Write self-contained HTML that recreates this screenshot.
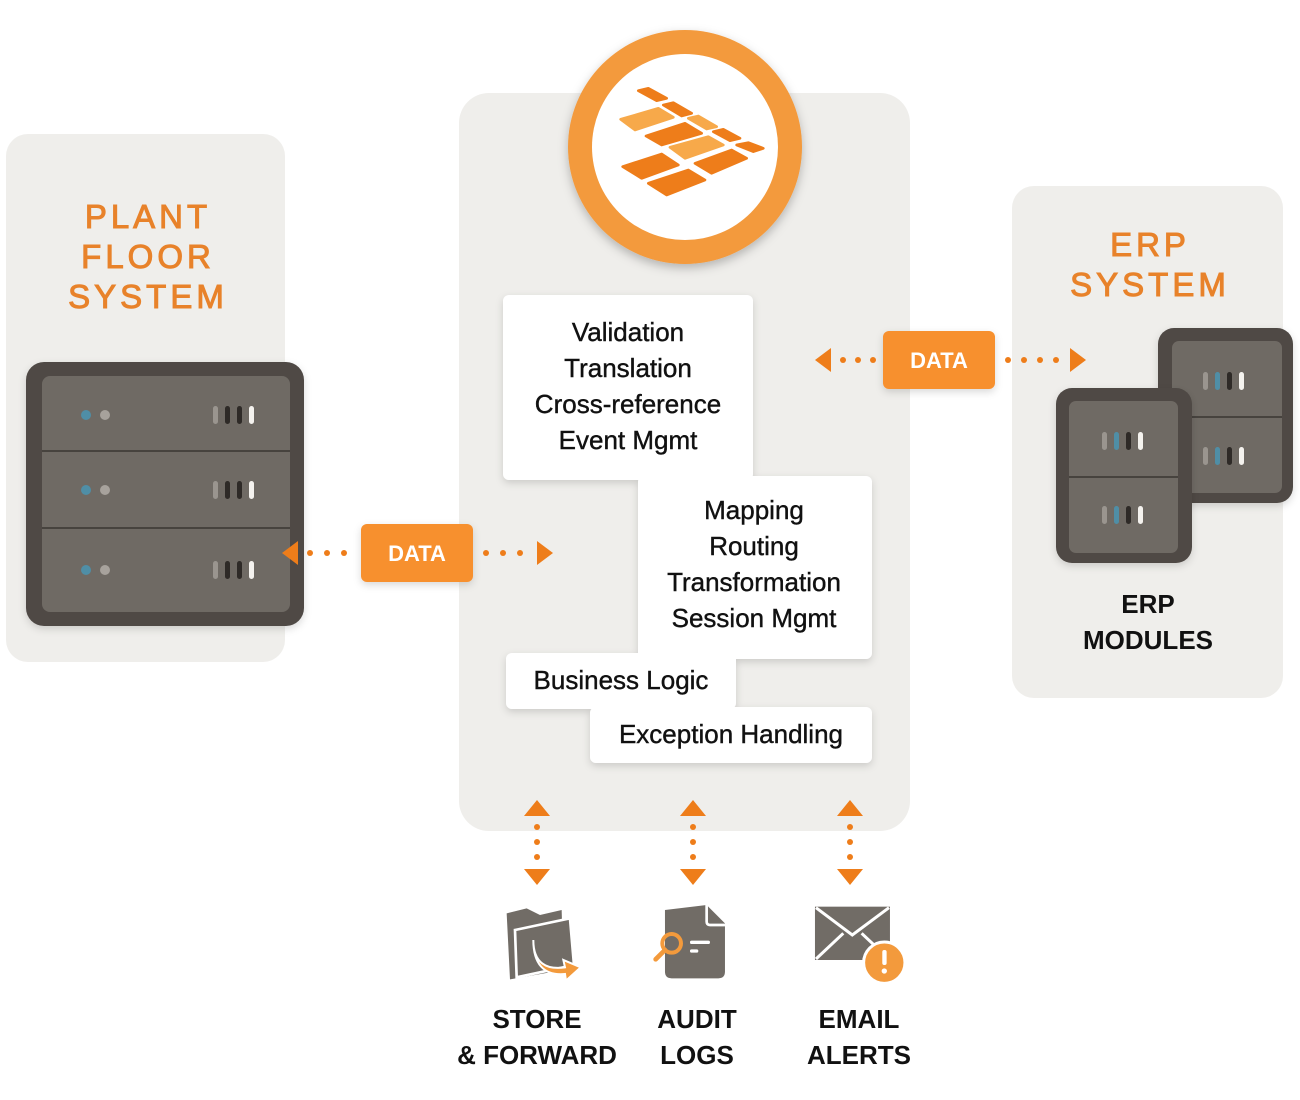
<!DOCTYPE html>
<html><head><meta charset="utf-8"><style>
html,body{margin:0;padding:0;background:#fff;}
svg{display:block;}
text{font-family:"Liberation Sans",sans-serif;}
</style></head><body>
<svg width="1300" height="1100" viewBox="0 0 1300 1100" xmlns="http://www.w3.org/2000/svg">
<defs>
<filter id="sh" x="-20%" y="-20%" width="140%" height="150%"><feDropShadow dx="0" dy="3" stdDeviation="4" flood-color="#000" flood-opacity="0.15"/></filter>
<filter id="sh2" x="-20%" y="-20%" width="140%" height="140%"><feDropShadow dx="0" dy="4" stdDeviation="5" flood-color="#000" flood-opacity="0.25"/></filter>
<g id="bars"><rect x="0" y="0" width="5" height="18" rx="2.5" fill="#9a958f"/><rect x="12" y="0" width="5" height="18" rx="2.5" fill="#2e2a27"/><rect x="24" y="0" width="5" height="18" rx="2.5" fill="#2e2a27"/><rect x="36" y="0" width="5" height="18" rx="2.5" fill="#f4f2ee"/></g>
<g id="bars2"><rect x="0" y="0" width="5" height="18" rx="2.5" fill="#9a958f"/><rect x="12" y="0" width="5" height="18" rx="2.5" fill="#4f8ea6"/><rect x="24" y="0" width="5" height="18" rx="2.5" fill="#2e2a27"/><rect x="36" y="0" width="5" height="18" rx="2.5" fill="#f4f2ee"/></g>
</defs>
<rect x="6" y="134" width="279" height="528" rx="22" fill="#efeeeb"/>
<rect x="459" y="93" width="451" height="738" rx="30" fill="#efeeeb"/>
<rect x="1012" y="186" width="271" height="512" rx="22" fill="#efeeeb"/>

<g fill="#e8822a" stroke="#e8822a" stroke-width="1" font-size="33" text-anchor="middle" letter-spacing="4">
<text x="148" y="228">PLANT</text><text x="148" y="268">FLOOR</text><text x="148" y="308">SYSTEM</text>
<text x="1150" y="256">ERP</text><text x="1150" y="296">SYSTEM</text>
</g>

<circle cx="685" cy="147" r="117" fill="#f39a3c" filter="url(#sh2)"/>
<circle cx="685" cy="147" r="93" fill="#fff"/>
<g transform="translate(560,30) scale(0.3333)" stroke-width="8" stroke-linejoin="round">
<polygon points="235,182 265,175 320,205 290,212" fill="#ee7d1a" stroke="#ee7d1a"/>
<polygon points="310,225 340,218 395,250 365,258" fill="#ee7d1a" stroke="#ee7d1a"/>
<polygon points="385,265 415,258 470,290 440,297" fill="#f7a94a" stroke="#f7a94a"/>
<polygon points="460,305 490,298 540,325 510,332" fill="#ee7d1a" stroke="#ee7d1a"/>
<polygon points="530,345 565,338 610,355 580,365" fill="#ee7d1a" stroke="#ee7d1a"/>
<polygon points="182,268 295,235 340,262 225,300" fill="#f7a94a" stroke="#f7a94a"/>
<polygon points="258,318 375,280 425,310 305,345" fill="#ee7d1a" stroke="#ee7d1a"/>
<polygon points="330,352 445,320 490,345 375,385" fill="#f7a94a" stroke="#f7a94a"/>
<polygon points="405,400 515,360 560,385 455,430" fill="#ee7d1a" stroke="#ee7d1a"/>
<polygon points="188,410 305,372 355,405 245,445" fill="#ee7d1a" stroke="#ee7d1a"/>
<polygon points="265,460 385,420 435,450 320,495" fill="#ee7d1a" stroke="#ee7d1a"/>
</g>

<rect x="26" y="362" width="278" height="264" rx="18" fill="#4f4a45" filter="url(#sh)"/>
<rect x="42" y="376" width="248" height="236" rx="8" fill="#6f6a64"/>
<line x1="42" y1="451" x2="290" y2="451" stroke="#3a3632" stroke-width="1.5"/>
<line x1="42" y1="528" x2="290" y2="528" stroke="#3a3632" stroke-width="1.5"/>
<g><circle cx="86" cy="415" r="5" fill="#4f8ea6"/><circle cx="105" cy="415" r="5" fill="#a7a29c"/><use href="#bars" x="213" y="406"/></g>
<g><circle cx="86" cy="490" r="5" fill="#4f8ea6"/><circle cx="105" cy="490" r="5" fill="#a7a29c"/><use href="#bars" x="213" y="481"/></g>
<g><circle cx="86" cy="570" r="5" fill="#4f8ea6"/><circle cx="105" cy="570" r="5" fill="#a7a29c"/><use href="#bars" x="213" y="561"/></g>

<rect x="1158" y="328" width="135" height="175" rx="16" fill="#4f4a45" filter="url(#sh)"/>
<rect x="1172" y="341" width="110" height="152" rx="7" fill="#6f6a64"/>
<line x1="1172" y1="417" x2="1282" y2="417" stroke="#3a3632" stroke-width="1.5"/>
<use href="#bars2" x="1203" y="372"/><use href="#bars2" x="1203" y="447"/>
<rect x="1056" y="388" width="136" height="175" rx="16" fill="#4f4a45" filter="url(#sh)"/>
<rect x="1069" y="401" width="109" height="152" rx="7" fill="#6f6a64"/>
<line x1="1069" y1="477" x2="1178" y2="477" stroke="#3a3632" stroke-width="1.5"/>
<use href="#bars2" x="1102" y="432"/><use href="#bars2" x="1102" y="506"/>
<g font-size="26" font-weight="bold" fill="#111" text-anchor="middle"><text x="1148" y="613">ERP</text><text x="1148" y="649">MODULES</text></g>

<g filter="url(#sh)" fill="#fff">
<rect x="503" y="295" width="250" height="185" rx="6"/>
<rect x="638" y="476" width="234" height="183" rx="6"/>
<rect x="506" y="653" width="230" height="56" rx="6"/>
<rect x="590" y="707" width="282" height="56" rx="6"/>
</g>
<g font-size="26" fill="#111" stroke="#111" stroke-width="0.4" text-anchor="middle">
<text x="628" y="341">Validation</text><text x="628" y="377">Translation</text><text x="628" y="413">Cross-reference</text><text x="628" y="449">Event Mgmt</text>
<text x="754" y="519">Mapping</text><text x="754" y="555">Routing</text><text x="754" y="591">Transformation</text><text x="754" y="627">Session Mgmt</text>
<text x="621" y="689">Business Logic</text>
<text x="731" y="743">Exception Handling</text>
</g>

<g fill="#ee7d1a">
<polygon points="282,553 298,541 298,565"/>
<circle cx="310" cy="553" r="3"/><circle cx="327" cy="553" r="3"/><circle cx="344" cy="553" r="3"/>
<circle cx="486" cy="553" r="3"/><circle cx="503" cy="553" r="3"/><circle cx="520" cy="553" r="3"/>
<polygon points="553,553 537,541 537,565"/>
<polygon points="815,360 831,348 831,372"/>
<circle cx="843" cy="360" r="3"/><circle cx="858" cy="360" r="3"/><circle cx="873" cy="360" r="3"/>
<circle cx="1008" cy="360" r="3"/><circle cx="1024" cy="360" r="3"/><circle cx="1040" cy="360" r="3"/><circle cx="1056" cy="360" r="3"/>
<polygon points="1086,360 1070,348 1070,372"/>
</g>
<rect x="361" y="524" width="112" height="58" rx="6" fill="#f7902e" filter="url(#sh)"/>
<rect x="883" y="331" width="112" height="58" rx="6" fill="#f7902e" filter="url(#sh)"/>
<g font-size="22" font-weight="bold" fill="#fff" text-anchor="middle"><text x="417" y="561">DATA</text><text x="939" y="368">DATA</text></g>

<g fill="#ee7d1a">
<polygon points="537,800 524,816 550,816"/><circle cx="537" cy="827" r="3"/><circle cx="537" cy="842" r="3"/><circle cx="537" cy="857" r="3"/><polygon points="537,885 524,869 550,869"/>
<polygon points="693,800 680,816 706,816"/><circle cx="693" cy="827" r="3"/><circle cx="693" cy="842" r="3"/><circle cx="693" cy="857" r="3"/><polygon points="693,885 680,869 706,869"/>
<polygon points="850,800 837,816 863,816"/><circle cx="850" cy="827" r="3"/><circle cx="850" cy="842" r="3"/><circle cx="850" cy="857" r="3"/><polygon points="850,885 837,869 863,869"/>
</g>

<g transform="translate(490,890) scale(0.3333)">
<path d="M50,70 L110,55 L150,75 L215,60 L220,240 L60,268 Z" fill="#716c66"/>
<path d="M75,120 L240,85 L252,225 L80,262 Z" fill="#716c66" stroke="#fff" stroke-width="8"/>
<path d="M130,150 C130,220 170,240 225,232 L220,210 L272,232 L228,272 L225,252 C160,258 130,220 130,150 Z" fill="#f39a3c" stroke="#fff" stroke-width="6"/>
<path d="M525,60 L650,45 L705,100 L705,245 Q705,265 685,265 L545,265 Q525,265 525,245 Z" fill="#716c66"/>
<path d="M650,45 L650,95 Q650,105 660,105 L705,105" fill="none" stroke="#fff" stroke-width="8"/>
<circle cx="545" cy="160" r="28" fill="none" stroke="#f39a3c" stroke-width="12" />
<line x1="525" y1="180" x2="497" y2="208" stroke="#f39a3c" stroke-width="14" stroke-linecap="round"/>
<rect x="600" y="152" width="60" height="10" rx="5" fill="#fff"/><rect x="600" y="178" width="25" height="10" rx="5" fill="#fff"/>
<rect x="975" y="50" width="225" height="160" fill="#716c66"/>
<polyline points="978,53 1087,135 1197,53" fill="none" stroke="#fff" stroke-width="9"/>
<polyline points="978,207 1060,130" fill="none" stroke="#fff" stroke-width="9"/>
<polyline points="1197,207 1115,130" fill="none" stroke="#fff" stroke-width="9"/>
<circle cx="1183" cy="218" r="62" fill="#f39a3c" stroke="#fff" stroke-width="9"/>
<rect x="1177" y="180" width="13" height="45" rx="6" fill="#fff"/><circle cx="1183" cy="243" r="8" fill="#fff"/>
</g>
<g font-size="26" font-weight="bold" fill="#111" text-anchor="middle">
<text x="537" y="1028">STORE</text><text x="537" y="1064">&amp; FORWARD</text>
<text x="697" y="1028">AUDIT</text><text x="697" y="1064">LOGS</text>
<text x="859" y="1028">EMAIL</text><text x="859" y="1064">ALERTS</text>
</g>
</svg>
</body></html>
